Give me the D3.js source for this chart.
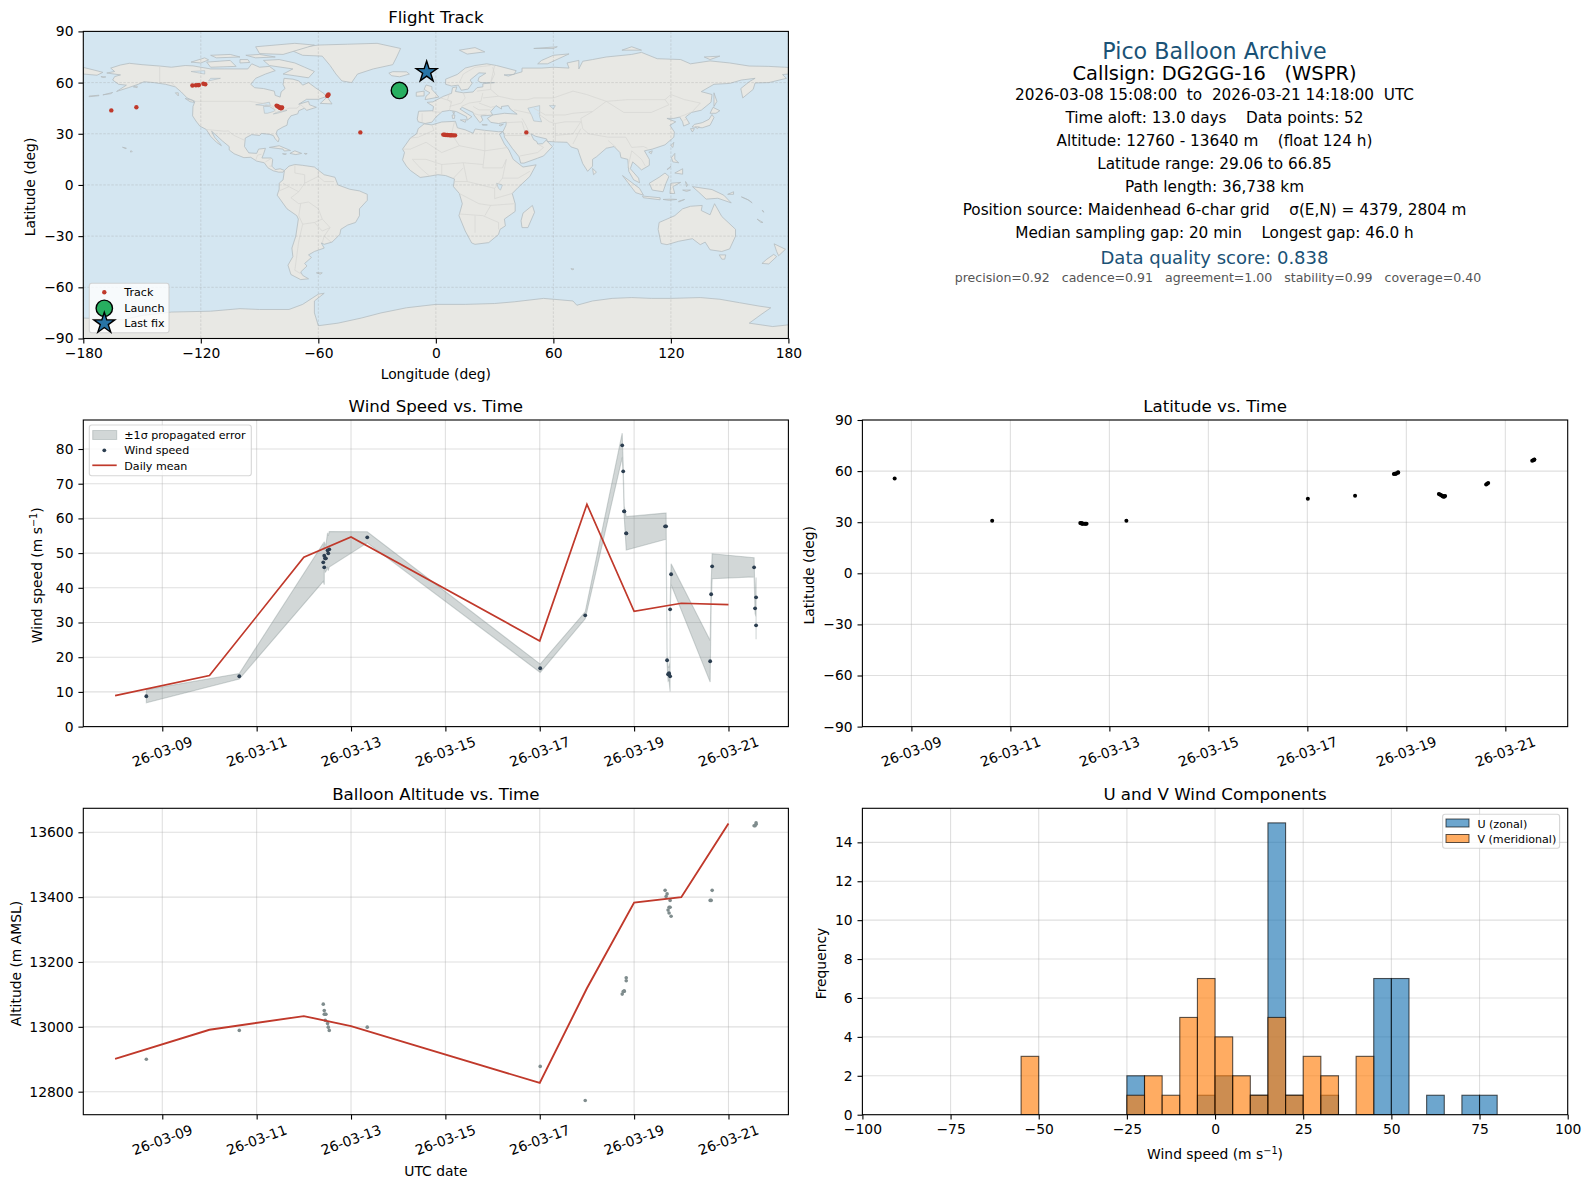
<!DOCTYPE html>
<html><head><meta charset="utf-8">
<script src="https://d3js.org/d3.v7.min.js"></script>
<style>html,body{margin:0;padding:0;background:#fff}svg{display:block}text{font-family:"DejaVu Sans",sans-serif;fill:#000;white-space:pre}</style>
</head><body><svg id="c" width="1589" height="1189"></svg>
<script>
// ---------- data ----------
const trackDay=[8.662,10.632,12.412,12.433,12.433,12.454,12.454,12.468,12.503,12.518,12.539,13.344,17.01,17.964,18.748,18.769,18.79,18.79,18.833,18.833,19.657,19.678,19.699,19.72,19.741,19.741,19.763,19.763,19.784,20.612,20.633,20.654,21.543,21.564,21.585,21.585];
const trackLon=[-18.6,46.2,3.8,4.5,5.2,5.9,6.6,7.3,8,8.9,9.8,-38.55,-165.7,-152.9,-124.3,-122.5,-121.3,-121,-118.7,-117.7,-81.3,-80.8,-80.4,-79.9,-79.6,-79.3,-79,-78.8,-78.5,-55.4,-55.1,-54.8,-5.5,-5,-4.7,-4.4];
const trackLat=[55.6,30.8,29.5,29.4,29.3,29.25,29.2,29.15,29.1,29.08,29.06,30.8,43.7,45.5,58.3,58.4,58.5,58.6,59.3,59,46.5,46.2,45.9,45.5,45.2,45.1,45,45.3,45.4,52.2,52.6,53,66.1,66.4,66.7,66.85];
const trackAlt=[12900,12989,13070,13039,13050,13020,13039,13039,13010,12999,12989,12999,12878,12773,13101,13109,13110,13110,13151,13142,13421,13402,13410,13360,13351,13369,13390,13369,13341,13390,13390,13421,13620,13620,13629,13625];
const windSpeed=[8.75,14.51,47.35,45.91,49.27,48.5,48.5,48.5,50.81,49.95,51.1,54.56,16.81,32.08,81.06,73.57,62.05,62.05,55.71,55.71,57.73,57.73,19.12,15.09,15.37,15.09,14.5,33.8,43.9,18.83,38.14,46.2,45.91,34.1,37.27,29.2];
const windSigma=[1.9,0.8,5.5,5,4,4,4,3.8,5,5,5.1,1.6,1.2,1,3.5,1.8,1.5,1.5,4.8,4.8,3.8,3.8,1.2,2,2,2,4.4,1,3,6,3,3.6,2.75,1.5,5.7,4];
const dailyDay=[8,10,12,13,17,18,19,20,21];
const dailyWind=[8.93,14.7,48.8,54.65,24.7,64.07,33.2,35.55,35.15];
const dailyAlt=[12901,12991,13033,13002,12827,13119,13383,13400,13627];
const launchPos=[-18.6,55.4];
const lastPos=[-4.7,66.2];
const binEdges=[-55,-25,-20,-15,-10,-5,0,5,10,15,20,25,30,40,45,50,60,70,75];
const uCounts=[0,2,0,0,0,1,2,0,1,15,1,0,1,0,7,7,1,1,1];
const vCounts=[3,1,2,1,5,7,4,2,1,5,1,3,2,3,0,0,0,0,0];
const infoLines=["Pico Balloon Archive","Callsign: DG2GG-16   (WSPR)","2026-03-08 15:08:00  to  2026-03-21 14:18:00  UTC","Time aloft: 13.0 days    Data points: 52","Altitude: 12760 - 13640 m    (float 124 h)","Latitude range: 29.06 to 66.85","Path length: 36,738 km","Position source: Maidenhead 6-char grid    σ(E,N) = 4379, 2804 m","Median sampling gap: 20 min    Longest gap: 46.0 h","Data quality score: 0.838","precision=0.92   cadence=0.91   agreement=1.00   stability=0.99   coverage=0.40"];
const land=[
[[-168,65.6],[-164,66.5],[-166,68.5],[-161,70.3],[-156.5,71.3],[-150,70.5],[-141,69.7],[-135,69],[-128,70],[-124,69.8],[-115,68],[-108,68],[-100,68],[-96,68],[-94,71],[-90,69],[-85,69.5],[-82,67],[-87,65],[-92,62.5],[-94.5,59],[-92.5,57],[-88,56.5],[-82.5,55],[-82,52.5],[-79.5,51.5],[-79,54.5],[-77,56.5],[-78,59],[-77.5,62.5],[-73,62],[-70,61],[-68,58.5],[-65,60],[-61.5,57],[-57,53.5],[-56,51.8],[-60,50.2],[-66,50.2],[-70,47.3],[-65,49],[-64.5,47],[-61,45.5],[-66,43.7],[-67,45],[-70,43.5],[-70.5,41.7],[-74,40.5],[-75.5,38],[-76,35],[-78,34],[-81,32],[-81.5,30],[-80,27],[-80.5,25.2],[-82,27],[-83,29],[-85,29.7],[-89,30.2],[-90,29],[-94,29.5],[-97.3,27.5],[-97.7,22.5],[-95.5,18.8],[-91.5,18.5],[-90.5,21],[-87,21.5],[-88,18],[-88.8,15.8],[-84,15.8],[-83.3,14.8],[-83.7,11],[-82,9],[-79.5,9.5],[-77.3,8.5],[-78,7.5],[-80.3,7.5],[-83,8.3],[-85.7,10],[-87.6,13],[-91.5,14],[-94.5,16.2],[-98,16],[-103,18.3],[-105.5,20.5],[-105.5,22.5],[-109,25.8],[-112.5,29.5],[-114.5,31.5],[-113,28],[-110,24],[-109.5,23],[-112,25],[-115,28.5],[-117.2,32.5],[-120.5,34.5],[-122.5,37.5],[-124.2,40.5],[-124,46],[-123,49],[-127,51],[-130,54.5],[-133,57.5],[-138,59],[-144,60],[-149,60.5],[-152,59],[-157,57],[-163,54.8],[-158,58.5],[-162,59],[-165,61.5],[-164,63.5],[-161,64.5]],
[[-73,78.5],[-68,76],[-58,75.5],[-54,70],[-51,65],[-48,61],[-43,60],[-40,65],[-32,68],[-22,70.5],[-20,75],[-18,80],[-30,83],[-45,82.5],[-60,82],[-70,80.5]],
[[-80,73.5],[-72,71.5],[-67,69],[-62,66.5],[-65,62.8],[-72,64],[-78,65],[-73,68],[-85,70],[-88,73]],
[[-117,72],[-105,73],[-102,69.5],[-115,69]],[[-90,77],[-78,76.5],[-62,82],[-72,83],[-92,81]],[[-125,72],[-118,74.5],[-116,73.3],[-120,71.5]],[[-97,76],[-90,76.5],[-82,75],[-92,74.5]],[[-115,76],[-105,76.5],[-100,75],[-112,74.5]],[[-100,73.5],[-96,73.5],[-95,71.8],[-100,71.5]],
[[-59,47.8],[-55.5,51.5],[-53,47.5]],[[-24,65.5],[-22,66.4],[-15,66.3],[-13.5,65],[-18.5,63.4],[-22.5,64]],
[[-85,22],[-80,23],[-74.2,20.2],[-77.5,19.9],[-78,21]],[[-74.5,18.5],[-72,20],[-68.5,18.5],[-71.5,17.8]],[[-78.3,18.3],[-76.3,18.2],[-77,17.8]],[[-67.2,18.5],[-65.7,18.4],[-66.5,17.9]],
[[-128,50.7],[-124,49.5],[-123.5,48.4],[-125.5,48.8]],[[-133,54],[-131.5,54],[-131.5,52.2]],[[-154.5,57.5],[-152.5,58],[-152.5,57]],
[[-156,19.3],[-155,19.5],[-155.6,20.2]],[[-160,22.1],[-158,21.6],[-158.2,21.2]],[[-177,51.7],[-172,52.3],[-172,52.6],[-177,52.1]],[[-170,52.8],[-165,54.2],[-166,53.5]],[[-171,63.5],[-168.5,63.3],[-170,63]],
[[-77.3,8.5],[-75,11],[-72,12],[-68,11.5],[-62,10.5],[-57,6],[-51.5,4.5],[-50,0],[-44,-2.5],[-39,-3.5],[-35,-5.5],[-35,-9],[-39,-14],[-39,-18],[-41,-22],[-45,-23.5],[-48.5,-26],[-49,-29],[-53,-33.5],[-57,-34.8],[-58.5,-34],[-57,-37],[-62,-39],[-65,-41],[-63.5,-42.5],[-67,-46],[-65.8,-47.5],[-69,-51],[-68,-53],[-65,-55],[-69,-55.5],[-74,-52.5],[-75.5,-47],[-73,-42],[-73.5,-37],[-71.5,-30],[-70.2,-20],[-71,-18],[-76,-14],[-81,-6],[-80,-2.5],[-80,1],[-78,3],[-77.5,7]],
[[-61,-51.5],[-58,-51.5],[-59,-52.3]],
[[-6,35.8],[-2,35.2],[3,36.9],[10,37.3],[11,33.5],[15,32.3],[19,30.3],[20,32.8],[25,32],[32,31.2],[34.3,31.3],[32.5,29.8],[35,24],[37.3,20.5],[39.5,15],[43,11.8],[44.5,10.5],[51.2,11.8],[48,5],[42,-1.5],[39,-5],[40.5,-11],[40.5,-15.5],[35,-20],[35.5,-24],[32.8,-26],[32,-29],[27,-33.8],[20,-34.8],[18.3,-34],[15,-27],[11.8,-18],[13.5,-11],[12,-5],[9,-1],[9.5,3.5],[5,5.5],[1,6],[-4,5],[-8,4.4],[-13,8.5],[-15,11],[-17,14.7],[-16,19],[-17,21],[-13,27.5],[-9.8,30],[-9,33]],
[[49.3,-12],[50.4,-16],[47,-25],[44,-25],[43.5,-21],[44.5,-16.5]],
[[-9,37],[-9.5,38.7],[-8.8,43.2],[-1.5,43.5],[-1.2,46],[-4.5,48.4],[-1.5,48.7],[1.5,50.5],[4,52],[8,53.7],[8.5,57],[10.7,57.5],[10,54.8],[14,54],[19,54.5],[21,57],[24,57.5],[24,59.3],[30,60],[23,60],[21.5,61],[22,63],[25.5,65.5],[22,65.7],[17.5,61.5],[18.5,59.5],[16.5,56.2],[13,55.5],[11.5,58.5],[8,58],[5,59],[5,62],[11,64.8],[15,68.5],[20,70],[26,71],[31,70],[41,67],[40,64.8],[34.8,64.5],[37,63.8],[40,65],[44,66.3],[44,68.5],[54,68.5],[60,69],[68,68.5],[67,71.5],[73,73],[73,68],[75,72.5],[80,73.5],[87,75],[100,76.5],[105,77.7],[113,74],[125,73.5],[130,71],[140,72.7],[150,71.5],[160,69.7],[170,69.5],[178,69],[180,68.9],[180,65],[177,64.7],[179,62.5],[170,60],[163,59.8],[162,56],[156.7,51],[155.7,56.5],[160,60.5],[163,62.5],[156,61.5],[150,59.5],[142,59],[135.5,54.7],[141,53],[140.5,48.5],[135.5,43.8],[130.5,42.5],[127.5,39.8],[129.5,36],[126.5,34.5],[126,37],[124.5,39.8],[121.5,39],[118,39],[122.5,37],[119.5,35],[121.8,31],[121.5,28],[117,23.5],[110.5,21],[106.5,20],[109,15],[109,11.5],[105,8.8],[103,11],[100.5,13.5],[99.3,9.5],[103.5,4],[104,1.3],[101,3],[98.5,8],[98,15],[94.5,16],[94,19],[91,22.5],[87,21.5],[82,16.5],[80,15],[80,11],[77.5,8],[75,12.5],[73,19],[72.5,21],[69,22.3],[67,25],[61.5,25.2],[57,25.5],[56.5,27],[51,28.5],[48.5,30],[50,26.5],[51.5,25.5],[52,24],[54.5,24.2],[56.3,26.2],[59.5,22.5],[55,17],[52,15.7],[45,12.8],[43.3,12.8],[42.5,16.5],[39,21.5],[35,28],[34.9,29.5],[34.3,31.3],[35.8,35],[36,36.8],[32,36],[28,36.7],[26.3,39],[29,41],[35,42],[41.5,41.5],[38,44.5],[37,46.5],[33.5,46],[33.5,44.5],[30.7,46.5],[28,43],[29,41],[26,40.7],[23,40.5],[24,38],[22.5,36.5],[19.5,41],[19,42.5],[13.5,45.5],[12.3,44.5],[18.4,40],[16,38],[15.7,40],[10.5,43],[7,43.7],[3.2,43],[0,39.7],[-2,36.8],[-5.5,36]],
[[-180,68.9],[-175,67.5],[-170,66],[-173,64.3],[-180,65]],
[[-5.5,50],[1.5,51.5],[0,53.5],[-2,56],[-2,57.6],[-5,58.6],[-6,56],[-3,54],[-5,52]],[[-10,52],[-6,52.2],[-6,55],[-10,54.3]],
[[12,79],[20,80.5],[25,78],[16,76.7]],[[52,71],[57,71],[68,76.8],[60,76],[54,73]],[[50,80],[62,81],[60,80]],[[95,79],[105,79],[100,81]],[[137,75],[145,75.5],[140,73.5]],
[[142,54],[143.5,49],[142,46],[142,50]],[[130.8,34],[136,33.5],[140,35],[142,39.5],[141,41.3],[139.5,38.5],[136,36.5],[132,35.5]],[[140,42],[141.5,45.5],[145,43.5],[143,42]],[[130,33],[132,33],[131,31]],[[132.5,34],[134.5,34],[133.5,33]],
[[120,23],[121.5,25],[121,22]],[[108.7,19.2],[110.5,20],[110,18.3]],[[120.3,16],[122,18.5],[122,15],[124,13],[121,13.5]],[[122,7],[126,9.5],[126,6.3]],[[118,9],[120,11],[119.5,10]],
[[109,1],[114,4.5],[117,7],[119,5],[117.5,1],[116,-4],[110.5,-3]],[[95.3,5.5],[104,-2],[106,-6],[102,-4.5],[98,1.5]],[[105.5,-6.5],[114.5,-7.5],[114.5,-8.7],[106,-7.5]],[[119.5,-5],[120,1],[125,1.5],[121,-1],[122,-5]],[[116,-8.5],[120,-8.3],[123,-8.5],[119,-9]],[[124,-10],[127,-8.5],[124,-9.5]],[[127.5,2],[128.5,0],[128,-1]],[[126,-3],[130,-3],[128,-3.8]],
[[131,-1],[141,-2.7],[147,-6],[150.8,-10.5],[144,-7.8],[138,-8.3],[134,-4]],[[149,-5.5],[152,-4],[152,-5.5]],[[156,-7],[160,-9],[161.5,-10.5],[159,-8.5]],[[166.5,-15],[167.5,-16],[167,-15]],[[164,-20],[167,-22],[166,-22]],
[[114,-22],[122,-18],[126,-14],[130,-12.5],[136,-12],[135.5,-15],[140,-17.5],[142.3,-11],[146,-18.5],[153,-26],[153,-30],[150,-37.5],[146,-39],[140,-38],[137.5,-33.5],[135,-35],[131,-31.5],[124,-33],[118,-35],[115,-34.3],[113.5,-26]],
[[144.7,-41],[148,-41],[147.5,-43.5],[146,-43.5]],[[172.7,-34.5],[178.5,-37.7],[175,-41.5],[174,-39]],[[172.5,-40.7],[174,-42],[170,-46.3],[166.5,-46],[169,-43.5]],
[[80,9.7],[82,7.5],[80.5,6]],[[69,-49],[70.5,-49.3],[69.5,-49.8]],[[12.5,38.1],[15.5,38.2],[15,36.7]],[[8.3,41],[9.7,41],[9.5,39],[8.5,39]],[[8.6,42.9],[9.5,42.9],[9.2,41.4]],[[23.5,35.5],[26.3,35.2],[24,35]],[[32.3,35],[34.5,35.6],[33,34.6]],
[[-180,-78],[-160,-79],[-150,-76.5],[-135,-74.5],[-115,-74],[-100,-72.5],[-90,-73],[-75,-73],[-68,-70],[-60,-64],[-57,-63.5],[-62,-68],[-62,-75],[-60,-82.5],[-50,-81],[-38,-78],[-28,-75],[-15,-72],[0,-70],[15,-70],[30,-69.5],[40,-68.5],[55,-66.5],[70,-68],[72,-70.5],[80,-68],[90,-66.5],[100,-66],[110,-66.5],[120,-66.5],[135,-66],[145,-67],[155,-69],[165,-71],[171,-72],[166,-76],[160,-81],[172,-83],[180,-82],[180,-90],[-180,-90]]
];
const inlandSeas=[[[47,45],[53,46.5],[53,40],[54,37],[50,37.5],[49,40.5]],[[-92,47],[-85,48.5],[-84.5,46.5],[-87.5,46.5]],[[-88,46],[-85,46],[-82,44],[-83,43],[-86,42],[-87.5,42]],[[-81,42],[-76,43.7],[-79.5,43.2],[-83,41.6]],[[-125,66.5],[-118,67],[-118,65]],[[-115,62.5],[-110,62.5],[-116,61]],[[58,46.5],[61,46.5],[60,44.5]],[[31,1],[34,0],[33,-3],[32,-2]]];
const borders=[
[[-141,60],[-141,69.7]],[[-123,49],[-95,49],[-89,48],[-83,46],[-82,42.5],[-79,43],[-75,45],[-71,45],[-69,47],[-67,45]],[[-117,32.5],[-108,31.5],[-106,31.7],[-103,29],[-97.3,26]],[[-92,14.5],[-91,17.5],[-89,18]],[[-133,57.5],[-135,60],[-141,60]],[[-87,13.5],[-84,15.5]],[[-85,11],[-83.5,11]],
[[-72,12],[-72,7],[-67,6],[-67,1],[-70,-4],[-74,-7.5],[-70,-11],[-65,-10],[-60,-14],[-58,-20],[-54,-25],[-57,-30],[-53.5,-33.5]],[[-70,-18],[-68,-23],[-70,-33],[-72,-50],[-69,-52]],[[-80,-3.5],[-75,-1],[-70,-4]],[[-78,1],[-75,-1]],[[-67,1],[-60,5],[-57,2],[-52,2]],[[-60,8],[-60,5]],[[-58,-20],[-62,-22],[-68,-23]],[[-62,-22],[-58,-27],[-54,-25]],[[-58,-34],[-57,-30]],[[-70,-18],[-69,-11]],
[[-9,28],[-1,32],[-2,35]],[[-13,27.5],[-9,28]],[[-17,21],[-13,21],[-5,25],[3,19],[12,23],[25,20],[37,22]],[[9.5,37],[8,30],[12,23]],[[25,32],[25,20],[24,10],[34,10],[36,15]],[[-12,15],[-5,15],[3,12],[14,13],[24,12]],[[3,6],[3,12]],[[9,4],[14,10]],[[14,13],[16,2],[30,-2],[34,4],[42,4],[48,8]],[[12,-5],[22,-11],[28,-12],[40,-11]],[[12,-17],[24,-18],[32,-22]],[[20,-28],[20,-18]],[[30,-2],[30,-8],[39,-5]],[[-8,10],[-3,5]],[[-8,10],[-12,15]],[[16,2],[9.5,2]],[[34,4],[36,15]],[[25,-18],[28,-12]],[[32,-22],[32,-26]],
[[30,70],[28,60],[28,56],[32,52],[40,50],[47,50],[50,51],[60,51],[70,55],[77,53],[87,49],[98,50],[107,50],[117,50],[120,53],[127,50],[135,48],[131,43]],[[87,49],[80,43],[74,39],[75,33],[78,30],[88,28],[97,28],[100,22],[106,22.5],[108,21.5]],[[87,49],[96,42.5],[110,42.5],[119,47],[117,50]],[[50,45],[56,41],[66,41],[70,42],[80,43]],[[44,39],[46,35],[48,30]],[[61,36],[61,25]],[[61,36],[66,37],[74,37],[70,30],[61,29]],[[74,33],[70,24]],[[88,26],[92,22]],[[35,29],[46,29],[48,28.5]],[[46,29],[44,37],[36,36.5]],[[43,17],[52,19],[55,22],[52,24]],[[-2,43],[3,42.5]],[[-7,42],[-7,37]],[[2.5,51],[8,49],[7,44]],[[7,54],[6,50],[8,48]],[[14,54],[15,51],[13,48],[10,47],[7,46]],[[24,54],[23,49],[17,48],[13,46]],[[22,48],[28,45.5],[30,46]],[[32,52],[24,51]],[[28,56],[21,55]],[[12,60],[14,65],[20,69]],[[20,69],[28,70]],[[28,60],[30,65],[29,69]],[[100,20],[98,10]],[[105,15],[100,20]],[[105,15],[107,11]],[[19,42],[22,41],[26,41.5]],[[19,46],[22,44],[28,44]],[[127,41],[130,42.5]],[[124.5,40],[127,41]],[[126.5,38],[128.5,38.5]],[[40,44],[48,42]],[[52,42],[58,37],[61,36]]
];

// ---------- helpers ----------
const svg=d3.select("#c");
const FS=13.89, LFS=11.1, GRID="#b0b0b0";
const mar=d=>{const D=new Date(Date.UTC(2026,2,1));return new Date(D.getTime()+(d-1)*864e5)};
const fmtT=d3.utcFormat("%y-%m-%d");
const fmtN=d=>d<0?"\u2212"+Math.abs(d):String(d);
const tickDates=[9,11,13,15,17,19,21].map(mar);
const X0=83.3,X1=788.4,X2=862.4,X3=1567.7;
const R1=[31.4,338.5],R2=[420,726.6],R3=[808.3,1114.7];

function panel(xr,yr,title,xs,ys,opt){
  const g=svg.append("g");
  const clipId="cl"+Math.round(xr[0])+Math.round(yr[0]);
  svg.append("clipPath").attr("id",clipId).append("rect").attr("x",xr[0]).attr("y",yr[0]).attr("width",xr[1]-xr[0]).attr("height",yr[1]-yr[0]);
  const grid=g.append("g");
  (opt.xt).forEach(t=>grid.append("line").attr("x1",xs(t)).attr("x2",xs(t)).attr("y1",yr[0]).attr("y2",yr[1]));
  (opt.yt).forEach(t=>grid.append("line").attr("x1",xr[0]).attr("x2",xr[1]).attr("y1",ys(t)).attr("y2",ys(t)));
  grid.selectAll("line").attr("stroke",GRID).attr("stroke-opacity",.4).attr("stroke-width",1.1);
  const body=g.append("g").attr("clip-path",`url(#${clipId})`);
  const finish=()=>{
    const top=g.append("g");
    top.append("rect").attr("x",xr[0]).attr("y",yr[0]).attr("width",xr[1]-xr[0]).attr("height",yr[1]-yr[0]).attr("fill","none").attr("stroke","#000").attr("stroke-width",1.1);
    const ax=top.append("g").attr("transform",`translate(0,${yr[1]})`).call(d3.axisBottom(xs).tickValues(opt.axt||opt.xt).tickFormat(opt.xf).tickSize(4.9).tickSizeOuter(0).tickPadding(4.9));
    const ay=top.append("g").attr("transform",`translate(${xr[0]},0)`).call(d3.axisLeft(ys).tickValues(opt.ayt||opt.yt).tickFormat(opt.yf||fmtN).tickSize(4.9).tickSizeOuter(0).tickPadding(4.9));
    [ax,ay].forEach(a=>{a.select(".domain").remove();a.selectAll("line").attr("stroke","#000").attr("stroke-width",1.1);a.selectAll("text").attr("font-size",FS).attr("fill","#000").attr("font-family",'"DejaVu Sans"')});
    if(opt.rot){ax.selectAll("text").attr("text-anchor","middle").attr("dy",null).attr("y",null).attr("dominant-baseline","central").attr("transform","translate(-0.5,25) rotate(-20)")}
    svg.append("text").attr("x",(xr[0]+xr[1])/2).attr("y",yr[0]-8).attr("text-anchor","middle").attr("font-size",16.67).text(title);
    if(opt.xl){const t=svg.append("text").attr("x",(xr[0]+xr[1])/2).attr("y",opt.xly).attr("text-anchor","middle").attr("font-size",FS);opt.xl(t)}
    if(opt.yl){const t=svg.append("text").attr("transform",`translate(${opt.ylx},${(yr[0]+yr[1])/2+2}) rotate(-90)`).attr("text-anchor","middle").attr("font-size",FS);opt.yl(t)}
  };
  return {body,finish,top:g};
}
const windLabel=t=>{t.append("tspan").text("Wind speed (m s");t.append("tspan").attr("dy",-5).attr("font-size",9.7).text("\u22121");t.append("tspan").attr("dy",5).text(")")};
function legendBox(x,y,w,h){svg.append("rect").attr("x",x).attr("y",y).attr("width",w).attr("height",h).attr("rx",2.5).attr("fill","#fff").attr("fill-opacity",.8).attr("stroke","#ccc").attr("stroke-opacity",.8).attr("stroke-width",1.1)}
function legendText(x,y,s){svg.append("text").attr("x",x).attr("y",y).attr("dominant-baseline","central").attr("font-size",LFS).text(s)}

// ---------- map ----------
{
 const xs=d3.scaleLinear().domain([-180,180]).range([X0,X1]), ys=d3.scaleLinear().domain([-90,90]).range([R1[1],R1[0]]);
 const ticksX=d3.range(-180,181,60), ticksY=d3.range(-90,91,30);
 const p=panel([X0,X1],R1,"Flight Track",xs,ys,{xt:[],yt:[],axt:ticksX,ayt:ticksY,xf:fmtN,xly:378.5,ylx:35,
   xl:t=>t.text("Longitude (deg)"),yl:t=>t.text("Latitude (deg)")});
 const path=d3.line().x(d=>xs(d[0])).y(d=>ys(d[1])).curve(d3.curveLinearClosed);
 const open=d3.line().x(d=>xs(d[0])).y(d=>ys(d[1]));
 p.body.append("rect").attr("x",X0).attr("y",R1[0]).attr("width",X1-X0).attr("height",R1[1]-R1[0]).attr("fill","#d4e6f1");
 p.body.append("g").selectAll("path").data(land).join("path").attr("d",path).attr("fill","#e8e8e4").attr("stroke","#b4bcc0").attr("stroke-width",.8);
 p.body.append("g").selectAll("path").data(inlandSeas).join("path").attr("d",path).attr("fill","#d4e6f1").attr("stroke","#b4bcc0").attr("stroke-width",.6);
 p.body.append("g").selectAll("path").data(borders).join("path").attr("d",open).attr("fill","none").attr("stroke","#d6d6d2").attr("stroke-width",.7);
 const gl=p.body.append("g").attr("stroke","#999").attr("stroke-opacity",.35).attr("stroke-width",.8).attr("stroke-dasharray","2.5,1.5");
 ticksX.forEach(t=>gl.append("line").attr("x1",xs(t)).attr("x2",xs(t)).attr("y1",R1[0]).attr("y2",R1[1]));
 ticksY.forEach(t=>gl.append("line").attr("y1",ys(t)).attr("y2",ys(t)).attr("x1",X0).attr("x2",X1));
 p.body.append("g").selectAll("circle").data(trackLon).join("circle").attr("cx",d=>xs(d)).attr("cy",(d,i)=>ys(trackLat[i])).attr("r",2.2).attr("fill","#c0392b");
 p.body.append("circle").attr("cx",xs(launchPos[0])).attr("cy",ys(launchPos[1])).attr("r",8.2).attr("fill","#27ae60").attr("stroke","#000").attr("stroke-width",1.4);
 const star=d3.symbol(d3.symbolStar,136);
 p.body.append("path").attr("d",star()).attr("transform",`translate(${xs(lastPos[0])},${ys(lastPos[1])})`).attr("fill","#2874a6").attr("stroke","#000").attr("stroke-width",1.4);
 p.finish();
 legendBox(89.3,283.3,79.7,49.4);
 svg.append("circle").attr("cx",104.3).attr("cy",292.3).attr("r",2.2).attr("fill","#c0392b");
 svg.append("circle").attr("cx",104.3).attr("cy",308.3).attr("r",8.2).attr("fill","#27ae60").attr("stroke","#000").attr("stroke-width",1.4);
 svg.append("path").attr("d",star()).attr("transform","translate(104.3,323.3)").attr("fill","#2874a6").attr("stroke","#000").attr("stroke-width",1.4);
 legendText(124.3,292.3,"Track");legendText(124.3,308.3,"Launch");legendText(124.3,323.3,"Last fix");
}

// ---------- info text ----------
{
 const ys=[50.7,73,95,118,141,163.5,186.5,209.5,232.5,257.4,277.7];
 const sz=[22.2,19.44,15.28,15.28,15.28,15.28,15.28,15.28,15.28,18.05,12.55];
 const col=["#1a5276","#000","#000","#000","#000","#000","#000","#000","#000","#1a5276","#555"];
 const dx=[0,0,0,0,0,0,0,0,0,0,3.5];
 svg.append("g").selectAll("text").data(infoLines).join("text").attr("x",(d,i)=>1214.5+dx[i]).attr("y",(d,i)=>ys[i]).attr("dominant-baseline","central").attr("text-anchor","middle").attr("font-size",(d,i)=>sz[i]).style("fill",(d,i)=>col[i]).text(d=>d);
}

// ---------- wind ----------
{
 const xs=d3.scaleUtc().domain([mar(7.326),mar(22.27)]).range([X0,X1]), ys=d3.scaleLinear().domain([0,88.36]).range([R2[1],R2[0]]);
 const p=panel([X0,X1],R2,"Wind Speed vs. Time",xs,ys,{xt:tickDates,xf:fmtT,yt:d3.range(0,81,10),rot:true,ylx:42,yl:windLabel});
 const band=d3.area().x(d=>xs(mar(d))).y0((d,i)=>ys(windSpeed[i]-windSigma[i])).y1((d,i)=>ys(windSpeed[i]+windSigma[i]));
 p.body.append("path").attr("d",band(trackDay)).attr("fill","#7f8c8d").attr("fill-opacity",.35).attr("stroke","#7f8c8d").attr("stroke-opacity",.35).attr("stroke-width",1.1);
 p.body.append("g").selectAll("circle").data(trackDay).join("circle").attr("cx",d=>xs(mar(d))).attr("cy",(d,i)=>ys(windSpeed[i])).attr("r",1.9).attr("fill","#2c3e50");
 p.body.append("path").attr("d",d3.line().x(d=>xs(mar(d))).y((d,i)=>ys(dailyWind[i]))(dailyDay)).attr("fill","none").attr("stroke","#c0392b").attr("stroke-width",1.7);
 p.finish();
 legendBox(89.3,425,162,50.7);
 svg.append("rect").attr("x",92.7).attr("y",430.5).attr("width",24).attr("height",9).attr("fill","#7f8c8d").attr("fill-opacity",.35).attr("stroke","#7f8c8d").attr("stroke-opacity",.35);
 svg.append("circle").attr("cx",104.3).attr("cy",450.3).attr("r",1.9).attr("fill","#2c3e50");
 svg.append("line").attr("x1",92.3).attr("x2",116.7).attr("y1",465.3).attr("y2",465.3).attr("stroke","#c0392b").attr("stroke-width",1.7);
 legendText(124.3,435.3,"\u00b11\u03c3 propagated error");legendText(124.3,450.3,"Wind speed");legendText(124.3,466,"Daily mean");
}

// ---------- latitude ----------
{
 const xs=d3.scaleUtc().domain([mar(8.01),mar(22.26)]).range([X2,X3]), ys=d3.scaleLinear().domain([-90,90]).range([R2[1],R2[0]]);
 const p=panel([X2,X3],R2,"Latitude vs. Time",xs,ys,{xt:tickDates,xf:fmtT,yt:d3.range(-90,91,30),rot:true,ylx:813.5,yl:t=>t.text("Latitude (deg)")});
 p.body.append("g").selectAll("circle").data(trackDay).join("circle").attr("cx",d=>xs(mar(d))).attr("cy",(d,i)=>ys(trackLat[i])).attr("r",2).attr("fill","#000");
 p.finish();
}

// ---------- altitude ----------
{
 const xs=d3.scaleUtc().domain([mar(7.326),mar(22.27)]).range([X0,X1]), ys=d3.scaleLinear().domain([12729,13674]).range([R3[1],R3[0]]);
 const p=panel([X0,X1],R3,"Balloon Altitude vs. Time",xs,ys,{xt:tickDates,xf:fmtT,yt:d3.range(12800,13601,200),yf:d=>String(d),rot:true,xly:1176,xl:t=>t.text("UTC date"),ylx:21,yl:t=>t.text("Altitude (m AMSL)")});
 p.body.append("g").selectAll("circle").data(trackDay).join("circle").attr("cx",d=>xs(mar(d))).attr("cy",(d,i)=>ys(trackAlt[i])).attr("r",1.8).attr("fill","#7f8c8d");
 p.body.append("path").attr("d",d3.line().x(d=>xs(mar(d))).y((d,i)=>ys(dailyAlt[i]))(dailyDay)).attr("fill","none").attr("stroke","#c0392b").attr("stroke-width",1.9);
 p.finish();
}

// ---------- histogram ----------
{
 const xs=d3.scaleLinear().domain([-100,100]).range([X2,X3]), ys=d3.scaleLinear().domain([0,15.75]).range([R3[1],R3[0]]);
 const p=panel([X2,X3],R3,"U and V Wind Components",xs,ys,{xt:d3.range(-100,101,25),xf:fmtN,yt:d3.range(0,15,2),xly:1158.5,xl:windLabel,ylx:825.5,yl:t=>t.text("Frequency")});
 const draw=(counts,color)=>p.body.append("g").selectAll("rect").data(counts.map((c,i)=>[binEdges[i],c]).filter(d=>d[1]>0)).join("rect")
   .attr("x",d=>xs(d[0])).attr("width",d=>xs(d[0]+5)-xs(d[0])).attr("y",d=>ys(d[1])).attr("height",d=>ys(0)-ys(d[1]))
   .attr("fill",color).attr("fill-opacity",.65).attr("stroke","#000").attr("stroke-opacity",.65).attr("stroke-width",1.1);
 draw(uCounts,"#1f77b4");draw(vCounts,"#ff7f0e");
 p.finish();
 legendBox(1442.6,814.3,117,34);
 svg.append("rect").attr("x",1446).attr("y",819).attr("width",23).attr("height",8).attr("fill","#1f77b4").attr("fill-opacity",.65).attr("stroke","#000").attr("stroke-opacity",.65);
 svg.append("rect").attr("x",1446).attr("y",834.5).attr("width",23).attr("height",8).attr("fill","#ff7f0e").attr("fill-opacity",.65).attr("stroke","#000").attr("stroke-opacity",.65);
 legendText(1477.4,824,"U (zonal)");legendText(1477.4,839,"V (meridional)");
}
</script></body></html>
